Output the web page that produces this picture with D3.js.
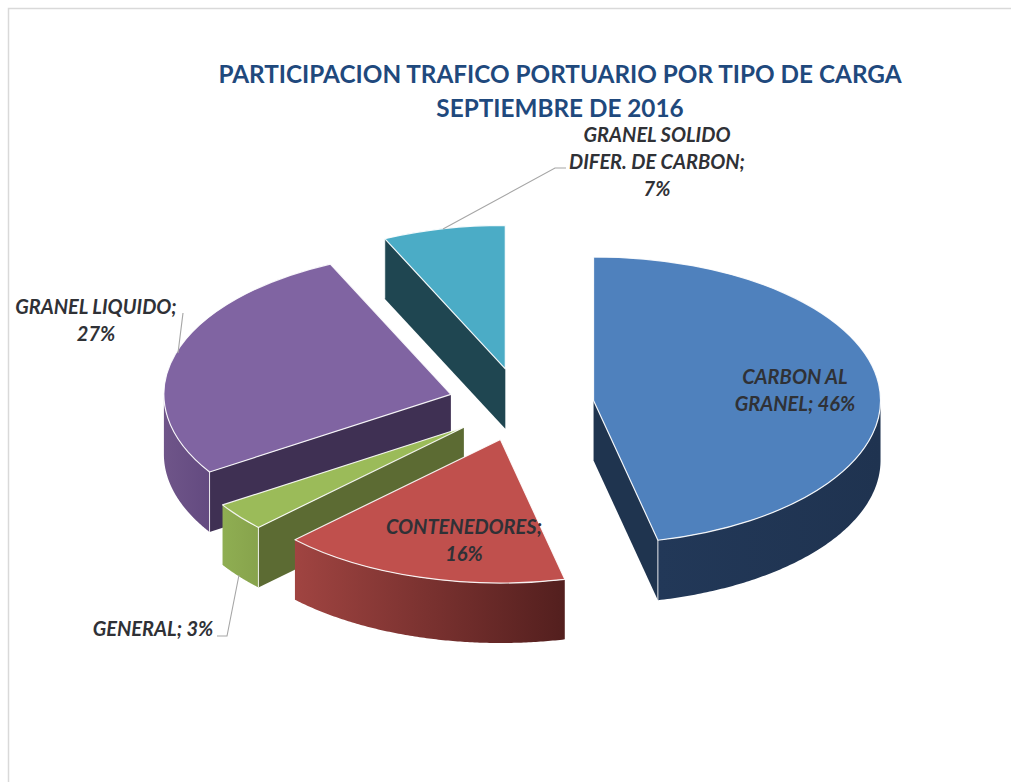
<!DOCTYPE html>
<html>
<head>
<meta charset="utf-8">
<script src="https://cdn.jsdelivr.net/npm/d3@7"></script>
<style>
html,body{margin:0;padding:0;background:#fff;}
svg{display:block;}
text{font-family:Lato,"Open Sans",sans-serif;}
</style>
</head>
<body>
<div id="chart"></div>
<script>
const titleLines = ["PARTICIPACION TRAFICO PORTUARIO POR TIPO DE CARGA", "SEPTIEMBRE DE 2016"];
const categories = ["CARBON AL GRANEL", "CONTENEDORES", "GENERAL", "GRANEL LIQUIDO", "GRANEL SOLIDO DIFER. DE CARBON"];
const values = [46.4, 16.3, 3.2, 27.2, 6.9];
const topColors = ["#4f81bd", "#c0504d", "#9bbb59", "#8064a2", "#4bacc6"];
const cutColors = ["#1f344f", "#7a3230", "#5c6b33", "#3f3053", "#1f4651"];
const wallFrom = ["#223858", "#a04441", "#8fae52", "#6f5589", "#2f7d91"];
const wallTo   = ["#1f3350", "#531f1e", "#87a34c", "#634a80", "#2f7d91"];
const labelLines = [["CARBON AL", "GRANEL; 46%"], ["CONTENEDORES;", "16%"], ["GENERAL; 3%"], ["GRANEL LIQUIDO;", "27%"], ["GRANEL SOLIDO", "DIFER. DE CARBON;", "7%"]];
const labelAnchors = [[795, 384], [464, 534], [153, 636], [96, 314], [657, 142]];
const labelStep = 27;
const leaders = [null, null, [[239, 575], [227, 636], [217, 636]], [[183, 313], [178, 353]], [[443, 229], [555, 168], [566, 168]]];

const W = 1011, H = 782;
const cx = 521, cy = 404.5, rx = 287, tilt = 0.5, depth = 60, explode = 73;

const svg = d3.select("#chart").append("svg").attr("width", W).attr("height", H);
const defs = svg.append("defs");

svg.append("path")
  .attr("d", d3.line()([[8.5, H + 5], [8.5, 8.5], [W + 5, 8.5]]))
  .attr("fill", "none").attr("stroke", "#d9d9d9").attr("stroke-width", 1.5);

const pie = d3.pie().sort(null).value(d => d);
const arcs = pie(values);
const arcGen = d3.arc().innerRadius(0).outerRadius(rx);
const sx = (a) => Math.sin(a) * rx;
const sy = (a) => -Math.cos(a) * rx * tilt;
const HALF = Math.PI / 2;

const order = [4, 3, 2, 1, 0];
const g = svg.append("g");
order.forEach(i => {
  const d = arcs[i];
  const mid = (d.startAngle + d.endAngle) / 2;
  const ox = cx + Math.sin(mid) * explode;
  const oy = cy - Math.cos(mid) * explode * tilt;
  const s = g.append("g").attr("transform", `translate(${ox},${oy})`);

  defs.append("linearGradient").attr("id", "wall" + i)
    .selectAll("stop").data([wallFrom[i], wallTo[i]]).join("stop")
    .attr("offset", (c, k) => k).attr("stop-color", c => c);

  const a0 = Math.max(d.startAngle, HALF), a1 = Math.min(d.endAngle, 3 * HALF);
  if (a1 > a0) {
    const samples = d3.range(0, 121).map(k => d3.interpolateNumber(a0, a1)(k / 120));
    const wall = d3.area().x(a => sx(a)).y0(a => sy(a)).y1(a => sy(a) + depth);
    s.append("path").attr("d", wall(samples)).attr("fill", `url(#wall${i})`);
  }

  const visibleCuts = [];
  if (Math.sin(d.startAngle) < -1e-6) visibleCuts.push(d.startAngle);
  if (Math.sin(d.endAngle) > 1e-6) visibleCuts.push(d.endAngle);
  visibleCuts.forEach(a => {
    s.append("path")
      .attr("d", d3.line()([[0, 0], [sx(a), sy(a)], [sx(a), sy(a) + depth], [0, depth]]) + "Z")
      .attr("fill", cutColors[i]);
    s.append("path")
      .attr("d", d3.line()([[sx(a), sy(a)], [sx(a), sy(a) + depth]]))
      .attr("stroke", "#fff").attr("stroke-opacity", 0.85).attr("stroke-width", 1);
  });

  s.append("path")
    .attr("d", arcGen(d))
    .attr("transform", `scale(1,${tilt})`)
    .attr("fill", topColors[i])
    .attr("stroke", "#fff").attr("stroke-width", 1.2)
    .attr("stroke-opacity", 0.9)
    .attr("vector-effect", "non-scaling-stroke")
    .attr("stroke-linejoin", "round")
    .append("title").text(categories[i]);
});

leaders.forEach(pts => {
  if (!pts) return;
  svg.append("path").attr("d", d3.line()(pts))
    .attr("fill", "none").attr("stroke", "#a6a6a6").attr("stroke-width", 1.1);
});

labelLines.forEach((lines, i) => {
  const t = svg.append("text")
    .attr("text-anchor", "middle")
    .attr("font-size", 20)
    .attr("font-weight", 700)
    .attr("font-style", "italic")
    .attr("fill", "#2f3136");
  lines.forEach((line, k) => {
    t.append("tspan").attr("x", labelAnchors[i][0]).attr("y", labelAnchors[i][1] + k * labelStep).text(line);
  });
});

svg.append("text").attr("text-anchor", "middle").attr("font-size", 24.3).attr("font-weight", 700).attr("fill", "#1f497d")
  .selectAll("tspan").data(titleLines).join("tspan")
  .attr("x", 560).attr("y", (l, k) => 83 + k * 34).text(l => l);
</script>
</body>
</html>
